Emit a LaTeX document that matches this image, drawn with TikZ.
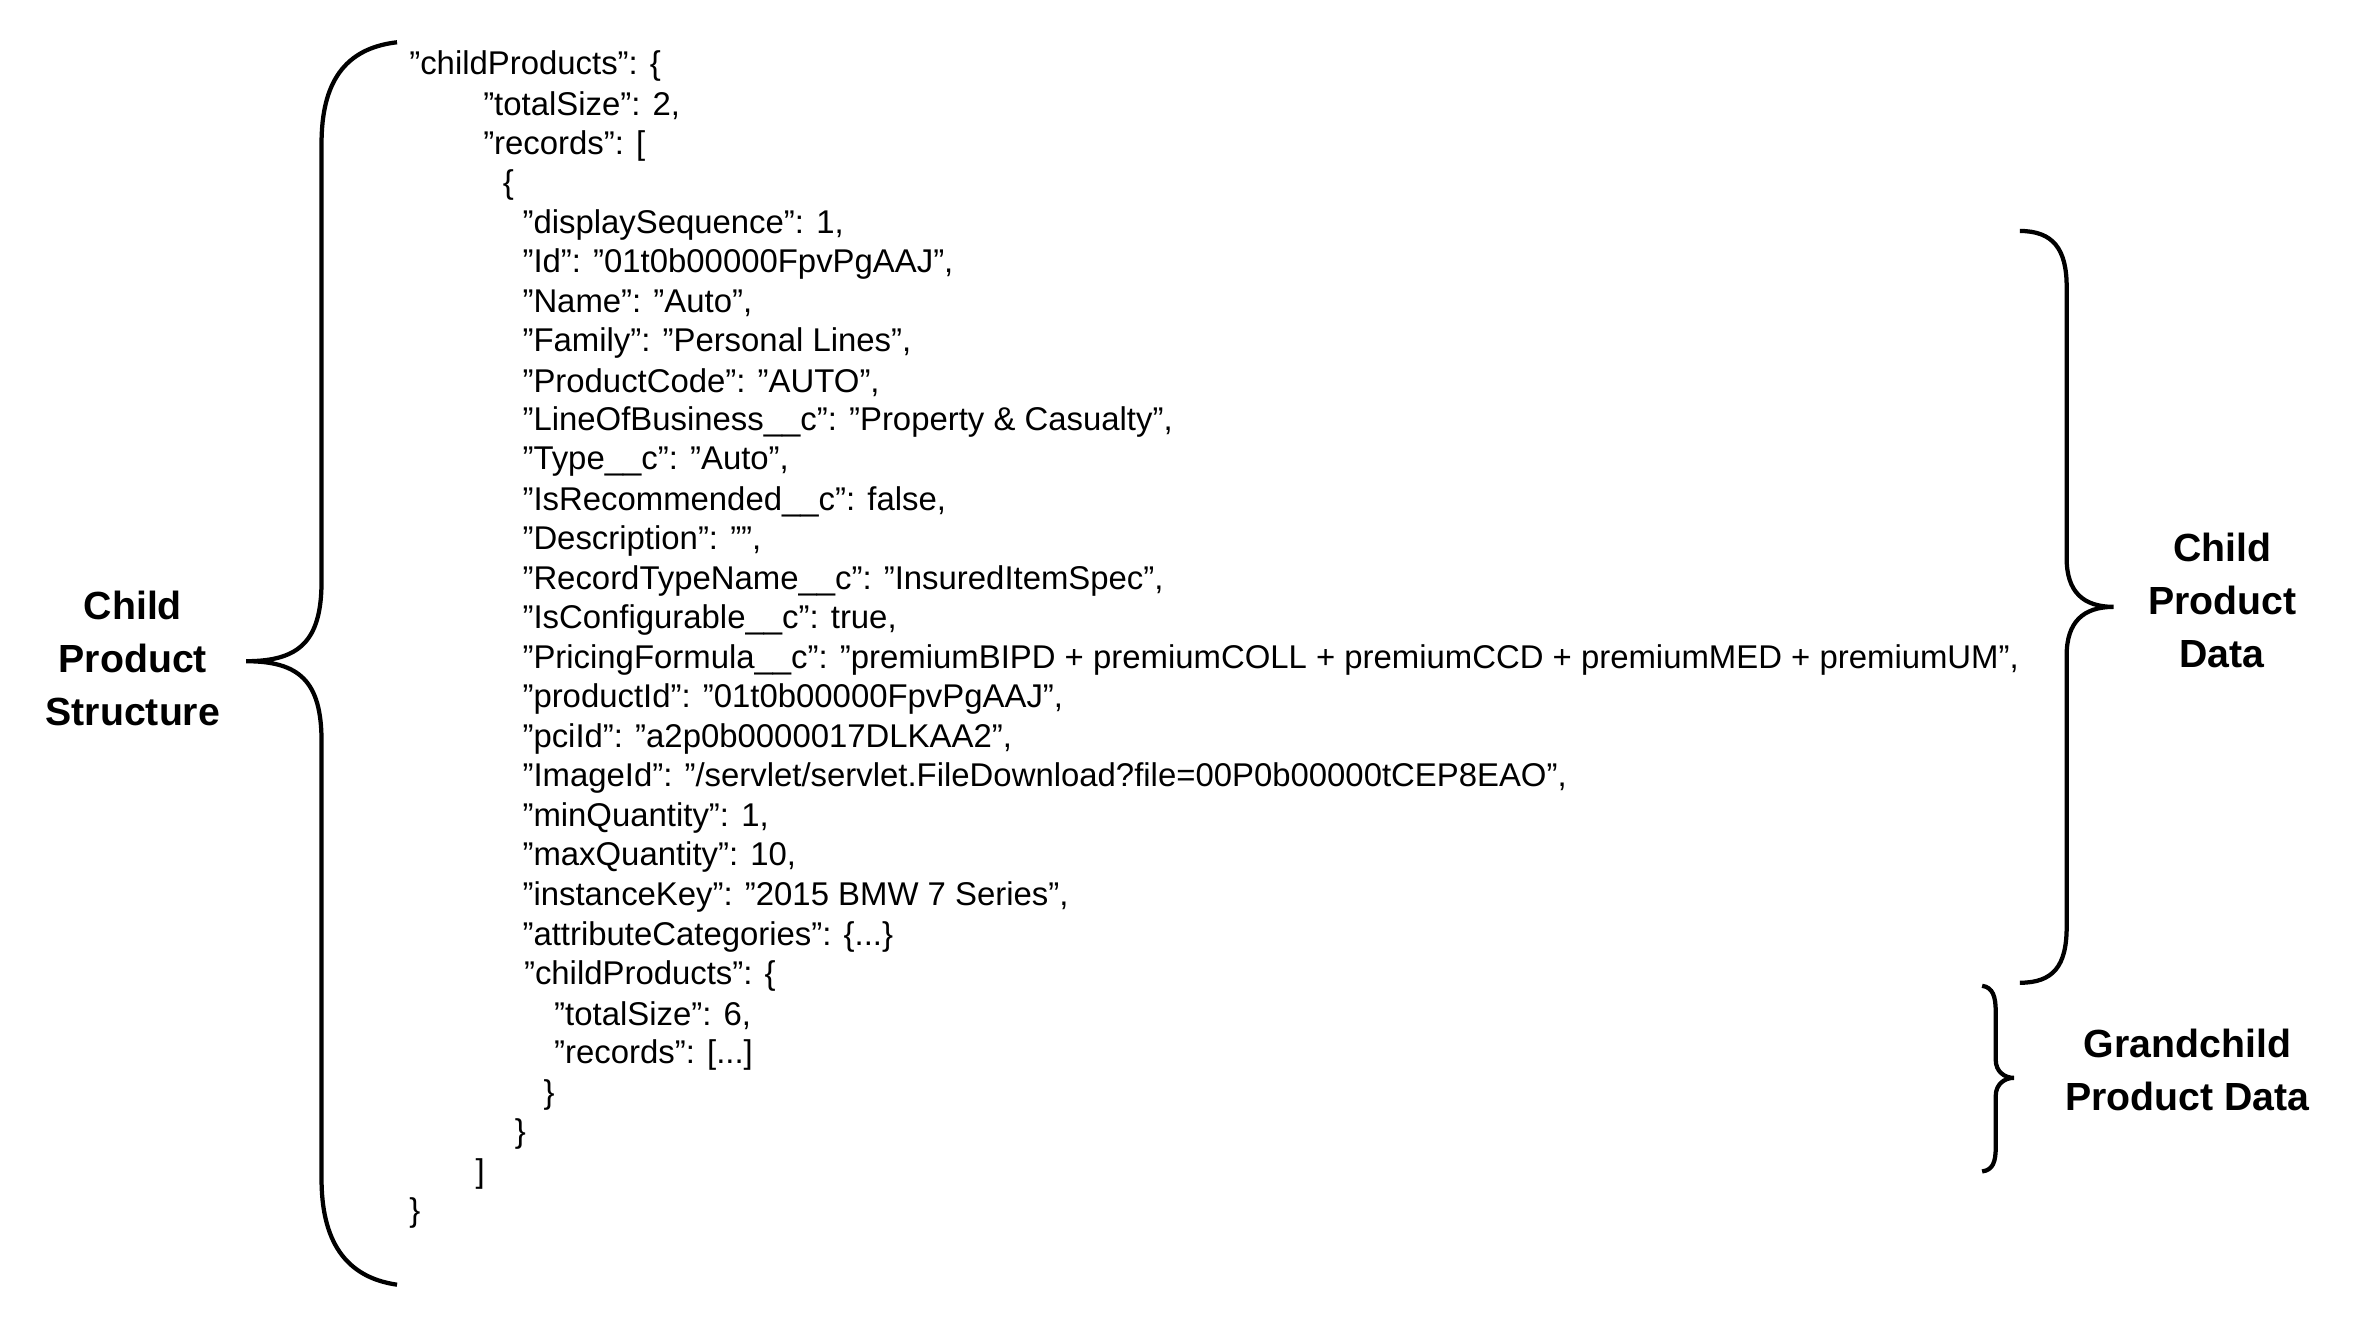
\documentclass[tikz,border=0pt]{standalone}
\usepackage{fontspec}
\setmainfont{Liberation Sans}
\tikzset{
  code/.style={anchor=west, inner sep=0pt, font=\fontsize{31}{36}\selectfont},
  label/.style={align=center, font=\fontsize{37}{50}\selectfont\bfseries},
  brace/.style={line width=4pt}
}
\begin{document}
\begin{tikzpicture}[x=0.05cm, y=0.05cm]
\useasboundingbox (0,0) rectangle (1560,-884);
% JSON lines
\foreach \i/\x/\t in {
 0/271/{"childProducts": \{},
 1/320/{"totalSize": 2,},
 2/320/{"records": [},
 3/333/{\{},
 4/346/{"displaySequence": 1,},
 5/346/{"Id": "01t0b00000FpvPgAAJ",},
 6/346/{"Name": "Auto",},
 7/346/{"Family": "Personal Lines",},
 8/346/{"ProductCode": "AUTO",},
 9/346/{"LineOfBusiness\_\_c": "Property \& Casualty",},
 10/346/{"Type\_\_c": "Auto",},
 11/346/{"IsRecommended\_\_c": false,},
 12/346/{"Description": "",},
 13/346/{"RecordTypeName\_\_c": "InsuredItemSpec",},
 14/346/{"IsConfigurable\_\_c": true,},
 15/346/{"PricingFormula\_\_c": "premiumBIPD + premiumCOLL + premiumCCD + premiumMED + premiumUM",},
 16/346/{"productId": "01t0b00000FpvPgAAJ",},
 17/346/{"pciId": "a2p0b0000017DLKAA2",},
 18/346/{"ImageId": "/servlet/servlet.FileDownload?file=00P0b00000tCEP8EAO",},
 19/346/{"minQuantity": 1,},
 20/346/{"maxQuantity": 10,},
 21/346/{"instanceKey": "2015 BMW 7 Series",},
 22/346/{"attributeCategories": \{...\}},
 23/347/{"childProducts": \{},
 24/367/{"totalSize": 6,},
 25/367/{"records": [...]},
 26/360/{\}},
 27/341/{\}},
 28/315/{]},
 29/271/{\}}}
  \node[code] (l\i) at (\x,-44-26.2*\i) {\t};
% left brace
\coordinate (lt) at (263,-28);
\coordinate (lb) at (263,-851);
\coordinate (lm) at (163,-438);
\draw[brace] (lt) .. controls (228,-32) and (213,-55) .. (213,-95) -- (213,-385)
  .. controls (213,-425) and (198,-438) .. (lm)
  .. controls (198,-438) and (213,-451) .. (213,-491) -- (213,-781)
  .. controls (213,-821) and (228,-846) .. (lb);
\node[label] (structure) at (88,-436) {Child\\Product\\Structure};
% child data brace
\coordinate (ct) at (1338,-153);
\coordinate (cb) at (1338,-651);
\coordinate (cm) at (1400,-402);
\draw[brace] (ct) .. controls (1360,-153) and (1369,-165) .. (1369,-190) -- (1369,-370)
  .. controls (1369,-392) and (1380,-402) .. (cm)
  .. controls (1380,-402) and (1369,-412) .. (1369,-434) -- (1369,-614)
  .. controls (1369,-640) and (1360,-651) .. (cb);
\node[label] (childdata) at (1472,-398) {Child\\Product\\Data};
% grandchild brace
\coordinate (gt) at (1313,-653);
\coordinate (gb) at (1313,-776);
\coordinate (gm) at (1334,-714);
\draw[brace] (gt) .. controls (1320,-654) and (1322,-660) .. (1322,-670) -- (1322,-702)
  .. controls (1322,-710) and (1328,-714) .. (gm)
  .. controls (1328,-714) and (1322,-718) .. (1322,-726) -- (1322,-760)
  .. controls (1322,-770) and (1320,-775) .. (gb);
\node[label] (grandchild) at (1449,-709) {Grandchild\\Product Data};
\end{tikzpicture}
\end{document}
